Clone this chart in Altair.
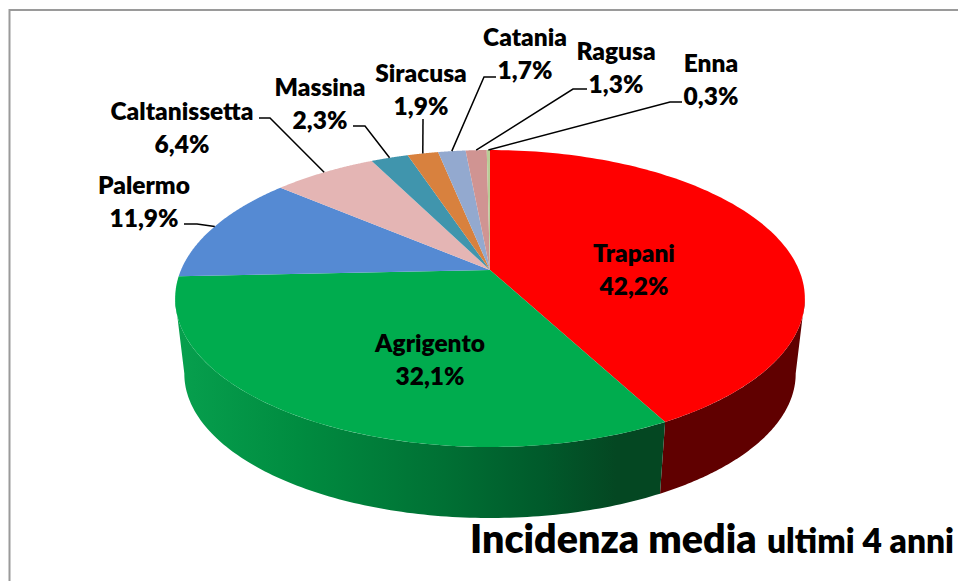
import math
import altair as alt
import pandas as pd

# ---- chart values ----
provinces = ["Trapani", "Agrigento", "Palermo", "Caltanissetta", "Massina",
             "Siracusa", "Catania", "Ragusa", "Enna"]
shares = [42.2, 32.1, 11.9, 6.4, 2.3, 1.9, 1.7, 1.3, 0.3]
share_labels = ["42,2%", "32,1%", "11,9%", "6,4%", "2,3%", "1,9%", "1,7%", "1,3%", "0,3%"]
top_colors = ["#ff0000", "#00ac4e", "#558ad3", "#e4b5b4", "#4095ad",
              "#d8813e", "#93a9cf", "#d09492", "#b9cd96"]

# ---- layout (pixel-like data space of the picture) ----
label_x = [634, 430, 144, 182, 320, 421, 525, 616, 711]
label_y = [255, 345, 187, 113, 89, 75, 39, 53, 65]
line_gap = 33
# leader line: start of the line near the label, then the elbow; the end is on the slice
leaders = {
    "Palermo": [(184, 224), (197, 224)],
    "Caltanissetta": [(259, 118), (270, 118)],
    "Massina": [(353, 126), (365, 126)],
    "Siracusa": [(423, 119)],
    "Catania": [(496, 77), (484, 77)],
    "Ragusa": [(587, 89), (573, 89)],
    "Enna": [(682, 102), (670, 102)],
}

CX, CY, R, S, K = 490, 270, 309, 143, 0.192
CY2, R2, S2 = 346, 300, 139


def top(theta):
    t = math.radians(theta)
    w = 1 + K * math.cos(t)
    return CX + R * math.sin(t) / w, CY - S * math.cos(t) / w


def bottom(theta):
    t = math.radians(theta)
    w = 1 + K * math.cos(t)
    return CX + R2 * math.sin(t) / w, CY2 - S2 * math.cos(t) / w


def sweep(a, b, n=120):
    return [a + (b - a) * i / n for i in range(n + 1)]


x_scale = alt.Scale(domain=[8, 958], range=[0, 950], nice=False, zero=False)
y_scale = alt.Scale(domain=[8, 581], range=[0, 573], nice=False, zero=False)
X = alt.X("x:Q", scale=x_scale, axis=None)
Y = alt.Y("y:Q", scale=y_scale, axis=None)


def polygon(points, fill):
    df = pd.DataFrame(points, columns=["x", "y"])
    df["i"] = range(len(df))
    return alt.Chart(df).mark_line(fill=fill, strokeWidth=0, filled=True, interpolate="linear-closed").encode(
        x=X, y=Y, order="i:Q")


def polyline(points, color="#000000", width=1.5):
    df = pd.DataFrame(points, columns=["x", "y"])
    df["i"] = range(len(df))
    return alt.Chart(df).mark_line(color=color, strokeWidth=width).encode(x=X, y=Y, order="i:Q")


edges = [0]
for s in shares:
    edges.append(edges[-1] + s * 3.6)
edges[-1] = 360

layers = []

# frame: top and left only
layers.append(polyline([(9.5, 581), (9.5, 10), (958, 10)], color="#9a9a9a", width=2))

# side wall
WIDE_RIGHT, WIDE_LEFT = 101, 259
red_wall = [top(t) for t in sweep(WIDE_RIGHT, edges[1])] + [bottom(t) for t in sweep(edges[1], WIDE_RIGHT)]
layers.append(polygon(red_wall, "#600000"))
green_wall = [top(t) for t in sweep(edges[1], WIDE_LEFT)] + [bottom(t) for t in sweep(WIDE_LEFT, edges[1])]
green_gradient = alt.LinearGradient(
    gradient="linear", x1=0, y1=0, x2=1, y2=0,
    stops=[
        alt.GradientStop(offset=0.0, color="#07a04e"),
        alt.GradientStop(offset=0.25, color="#008c40"),
        alt.GradientStop(offset=0.55, color="#007034"),
        alt.GradientStop(offset=0.75, color="#005a2b"),
        alt.GradientStop(offset=0.9, color="#044722"),
        alt.GradientStop(offset=1.0, color="#044722"),
    ],
)
layers.append(polygon(green_wall, green_gradient))

# top face
for i, c in enumerate(top_colors):
    pts = [(CX, CY)] + [top(t) for t in sweep(edges[i], edges[i + 1])]
    layers.append(polygon(pts, c))

# leader lines
for name, pts in leaders.items():
    i = provinces.index(name)
    mid = (edges[i] + edges[i + 1]) / 2
    layers.append(polyline(list(pts) + [top(mid)]))

# labels
text_rows = []
for i, name in enumerate(provinces):
    text_rows.append({"x": label_x[i], "y": label_y[i], "t": name})
    text_rows.append({"x": label_x[i], "y": label_y[i] + line_gap, "t": share_labels[i]})
layers.append(alt.Chart(pd.DataFrame(text_rows)).mark_text(
    font="Lato", fontWeight=800, fontSize=24.5, color="#000000", baseline="middle", align="center"
).encode(x=X, y=Y, text="t:N"))

# caption
layers.append(alt.Chart(pd.DataFrame([{"x": 470, "y": 553, "t": "Incidenza media"}])).mark_text(
    font="Lato", fontWeight=800, fontSize=39.4, color="#000000", baseline="alphabetic", align="left"
).encode(x=X, y=Y, text="t:N"))
layers.append(alt.Chart(pd.DataFrame([{"x": 767, "y": 553, "t": "ultimi 4 anni"}])).mark_text(
    font="Lato", fontWeight=800, fontSize=33.5, color="#000000", baseline="alphabetic", align="left"
).encode(x=X, y=Y, text="t:N"))

chart = alt.layer(*layers).properties(
    width=950, height=573, padding=0, background="#ffffff",
    autosize=alt.AutoSizeParams(type="none"),
).configure_view(stroke=None)

chart.save("out.html", embed_options={"renderer": "svg", "actions": False})
